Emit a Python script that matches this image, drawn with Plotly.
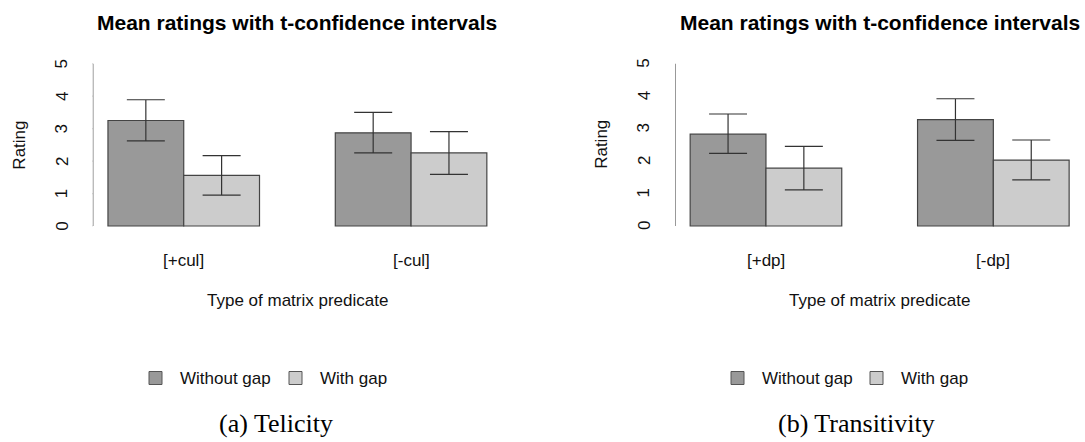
import plotly.graph_objects as go

# ---- data ----
series = ["Without gap", "With gap"]
panel_titles = ["Mean ratings with t-confidence intervals", "Mean ratings with t-confidence intervals"]
captions = ["(a) Telicity", "(b) Transitivity"]
categories_a = ["[+cul]", "[-cul]"]
categories_b = ["[+dp]", "[-dp]"]

# panel (a) Telicity
means_a_without = [3.25, 2.87]
lower_a_without = [2.62, 2.25]
upper_a_without = [3.89, 3.50]
means_a_with = [1.56, 2.25]
lower_a_with = [0.95, 1.59]
upper_a_with = [2.17, 2.91]

# panel (b) Transitivity
means_b_without = [2.83, 3.28]
lower_b_without = [2.24, 2.64]
upper_b_without = [3.45, 3.92]
means_b_with = [1.78, 2.03]
lower_b_with = [1.11, 1.42]
upper_b_with = [2.45, 2.65]

y_ticks = [0, 1, 2, 3, 4, 5]
xlab = "Type of matrix predicate"
ylab = "Rating"

# ---- style ----
W, H = 1085, 442
colors = ["#999999", "#cccccc"]
edge = "#444444"
FONT = "Liberation Sans"
FS = 17

def py(px):
    return 1 - px / H

fig = go.Figure()

panels = [
    dict(cats=categories_a,
         means=[means_a_without, means_a_with],
         lows=[lower_a_without, lower_a_with],
         ups=[upper_a_without, upper_a_with],
         xdom=[92.8 / W, 502 / W], xa="x", ya="y"),
    dict(cats=categories_b,
         means=[means_b_without, means_b_with],
         lows=[lower_b_without, lower_b_with],
         ups=[upper_b_without, upper_b_with],
         xdom=[675 / W, 1084.3 / W], xa="x2", ya="y2"),
]

ydom = [py(232.5), py(57.2)]
shapes = []
annotations = []

def ann(**kw):
    kw.setdefault("xanchor", "center")
    kw.setdefault("yanchor", "middle")
    kw.setdefault("showarrow", False)
    annotations.append(kw)

for pi, p in enumerate(panels):
    for si, name in enumerate(series):
        xs = [1 + g * 3 + si + 0.5 for g in range(len(p["cats"]))]
        m = p["means"][si]
        up = [u - v for u, v in zip(p["ups"][si], m)]
        dn = [v - l for v, l in zip(m, p["lows"][si])]
        fig.add_trace(go.Bar(
            x=xs, y=m, width=1, name=name, showlegend=False,
            marker=dict(color=colors[si], line=dict(color=edge, width=1.2)),
            error_y=dict(type="data", array=up, arrayminus=dn, symmetric=False,
                         color="#333333", thickness=1.2, width=19),
            xaxis=p["xa"], yaxis=p["ya"],
        ))
    xref = p["xa"]
    yref = p["ya"]
    # y axis line and ticks (R style)
    shapes.append(dict(type="line", xref=xref, yref=yref, x0=0.8, x1=0.8,
                       y0=y_ticks[0], y1=y_ticks[-1], line=dict(color="#555555", width=1.2)))
    for v in y_ticks:
        shapes.append(dict(type="line", xref=xref, yref=yref, xsizemode="pixel",
                           xanchor=0.8, x0=-10, x1=0, y0=v, y1=v,
                           line=dict(color="#555555", width=1.2)))
        ann(xref=xref, yref=yref, x=0.8, y=v, xshift=-31, text=str(v), textangle=-90,
            font=dict(family=FONT, size=FS, color="#111111"))
    ann(xref=xref, yref=yref, x=0.8, y=2.5, xshift=-73, text=ylab, textangle=-90,
        font=dict(family=FONT, size=FS, color="#111111"))
    # category labels
    for g, c in enumerate(p["cats"]):
        ann(xref=xref, yref="paper", x=2 + g * 3, y=py(260), text=c,
            font=dict(family=FONT, size=FS, color="#111111"))
    xc = 3.5
    ann(xref=xref, yref="paper", x=xc, y=py(300), text=xlab,
        font=dict(family=FONT, size=FS, color="#111111"))
    ann(xref=xref, yref="paper", x=xc, y=py(22), text="<b>" + panel_titles[pi] + "</b>",
        font=dict(family=FONT, size=21, color="#000000"))

# legends (R style) and captions
legend_pos = [(149, 289), (731, 870)]
caption_x = [276, 856]
for pi in range(2):
    for si, name in enumerate(series):
        x0 = legend_pos[pi][si]
        shapes.append(dict(type="rect", xref="paper", yref="paper",
                           x0=x0 / W, x1=(x0 + 13) / W, y0=py(384.5), y1=py(371.5),
                           fillcolor=colors[si], line=dict(color="#555555", width=1)))
        ann(xref="paper", yref="paper", x=(x0 + 29) / W, y=py(378), xanchor="left",
            text=name, font=dict(family=FONT, size=FS, color="#111111"))
    ann(xref="paper", yref="paper", x=caption_x[pi] / W, y=py(423), text=captions[pi],
        font=dict(family="Liberation Serif", size=26, color="#000000"))

axis_common = dict(showgrid=False, zeroline=False, showline=False, showticklabels=False,
                   ticks="", fixedrange=True)
fig.update_layout(
    width=W, height=H,
    margin=dict(l=0, r=0, t=0, b=0),
    paper_bgcolor="white", plot_bgcolor="white",
    barmode="overlay", showlegend=False,
    xaxis=dict(domain=panels[0]["xdom"], range=[0.8, 6.2], anchor="y", **axis_common),
    yaxis=dict(domain=ydom, range=[-0.2, 5.2], anchor="x", **axis_common),
    xaxis2=dict(domain=panels[1]["xdom"], range=[0.8, 6.2], anchor="y2", **axis_common),
    yaxis2=dict(domain=ydom, range=[-0.2, 5.2], anchor="x2", **axis_common),
    shapes=shapes, annotations=annotations,
)

fig.write_html("out.html", config={"displayModeBar": False},
               post_script="document.body.style.margin='0';document.body.style.overflow='hidden';")
